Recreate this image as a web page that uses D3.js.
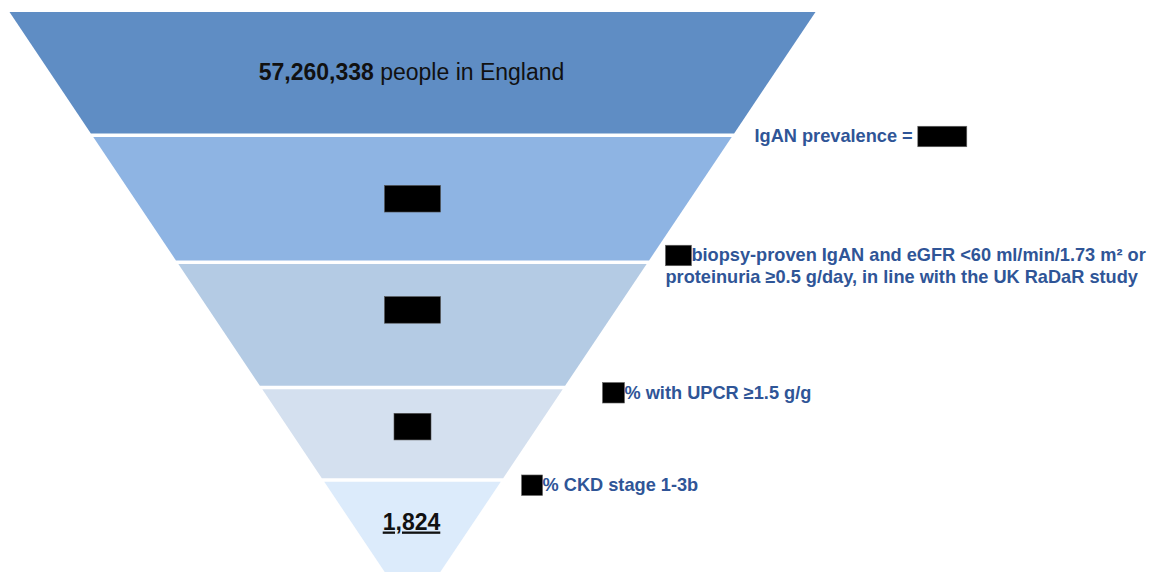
<!DOCTYPE html>
<html>
<head>
<meta charset="utf-8">
<script src="https://cdn.jsdelivr.net/npm/d3@7"></script>
<style>
  body { margin: 0; background: #fff; }
  text { font-family: "Liberation Sans", Arial, sans-serif; white-space: pre; }
</style>
</head>
<body>
<div id="chart"></div>
<script>
const width = 1161
const height = 572

// funnel stages, top to bottom
const stageValues = ["57,260,338", null, null, null, "1,824"]   // null = value redacted in the source
const stageSuffix = [" people in England", "", "", "", ""]
const stageRedactWidth = [0, 56, 56, 37, 0]
// depth where each stage starts / ends (0 = top edge, 1 = apex)
const stageBreaks = [0, 0.2049, 0.416, 0.6243, 0.778, 1]
const stageColors = ["#5f8dc4", "#8eb4e3", "#b4cbe4", "#d4e0ef", "#dcebfb"]

// notes written next to each step down the funnel, "[R]" = redacted box
const notes = [
    ["IgAN prevalence = [R]"],
    ["[R]biopsy-proven IgAN and eGFR <60 ml/min/1.73 m² or", "proteinuria ≥0.5 g/day, in line with the UK RaDaR study"],
    ["[R]% with UPCR ≥1.5 g/g"],
    ["[R]% CKD stage 1-3b"]
]
const noteRedactWidth = [49, 26, 22, 21]

// layout tweaks
const labelAt = [0.49, 0.5, 0.377, 0.42, 0.30]   // where in the band the centre label sits
const noteDx = [21.6, 17.6, 38.6, 19.6]
const noteDy = [7, -1, 11, 11]

const cx = 412.5
const gap = 3.6

const svg = d3.select("#chart").append("svg")
    .attr("width", width)
    .attr("height", height)

const y = d3.scaleLinear().domain([0, 1]).range([12, 613.5])
const halfW = d3.scaleLinear().domain([0, 1]).range([403, 0])
const wAt = py => halfW(y.invert(py))

const bands = stageColors.map((c, i) => {
    let y0 = y(stageBreaks[i]), y1 = y(stageBreaks[i + 1])
    if (i > 0) y0 += gap / 2
    if (i < stageColors.length - 1) y1 -= gap / 2
    return { i, y0, y1, color: c }
})

svg.append("g").attr("id", "funnel")
    .selectAll("path")
    .data(bands)
    .join("path")
    .attr("d", d => {
        const w0 = wAt(d.y0), w1 = wAt(d.y1)
        return d3.line()([[cx - w0, d.y0], [cx + w0, d.y0], [cx + w1, d.y1], [cx - w1, d.y1]]) + "Z"
    })
    .attr("fill", d => d.color)

// centre labels
const centre = svg.append("g").attr("id", "centre")
bands.forEach(d => {
    const fs = 23
    const cy = d.y0 + (d.y1 - d.y0) * labelAt[d.i]
    if (stageValues[d.i] === null) {
        const w = stageRedactWidth[d.i]
        centre.append("rect")
            .attr("x", cx - w / 2).attr("y", cy - 13.3)
            .attr("width", w).attr("height", 26.6)
            .attr("fill", "#000").attr("stroke", "#555").attr("stroke-width", 0.6)
        return
    }
    const t = centre.append("text")
        .attr("x", cx - 1).attr("y", cy + 0.358 * fs)
        .attr("text-anchor", "middle")
        .attr("font-size", fs)
        .attr("fill", "#111")
    t.append("tspan").attr("font-weight", "bold").text(stageValues[d.i])
    if (stageSuffix[d.i]) t.append("tspan").text(stageSuffix[d.i])
    if (d.i === stageValues.length - 1) t.style("text-decoration", "underline")
})

// notes on the right of the funnel
const noteG = svg.append("g").attr("id", "notes")
notes.forEach((lines, k) => {
    const by = y(stageBreaks[k + 1])
    const x0 = cx + wAt(by) + noteDx[k]
    lines.forEach((line, li) => {
        const base = by + noteDy[k] + li * 22
        const parts = line.split("[R]")
        let x = x0
        parts.forEach((p, pi) => {
            if (pi > 0) {
                const w = noteRedactWidth[k]
                noteG.append("rect")
                    .attr("x", x).attr("y", base - 16)
                    .attr("width", w).attr("height", 20.5)
                    .attr("fill", "#000").attr("stroke", "#666").attr("stroke-width", 0.6)
                x += w
            }
            if (p.length) {
                const t = noteG.append("text")
                    .attr("x", x).attr("y", base)
                    .attr("font-size", 18.2)
                    .attr("font-weight", "bold")
                    .attr("fill", "#2f5597")
                    .text(p)
                x += t.node().getComputedTextLength()
            }
        })
    })
})
</script>
</body>
</html>
